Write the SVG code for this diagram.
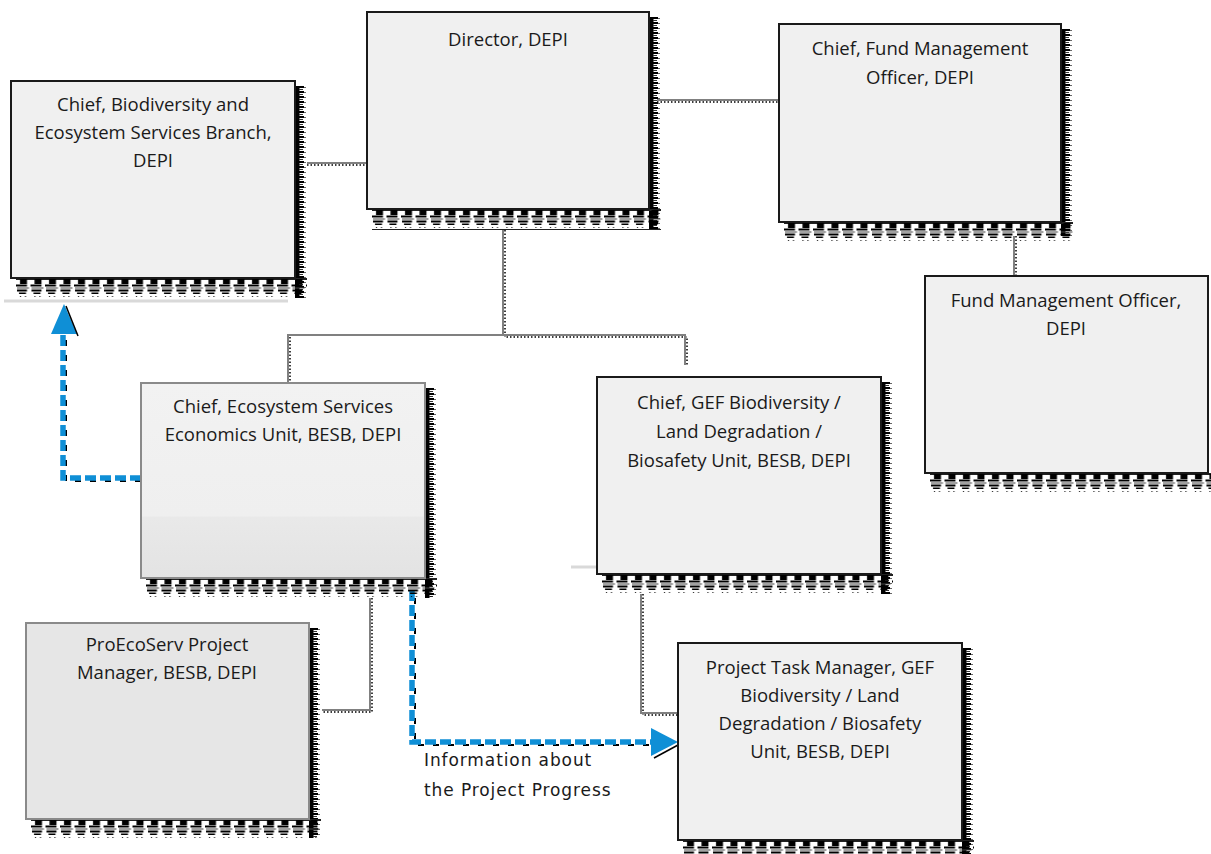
<svg xmlns="http://www.w3.org/2000/svg" width="1211" height="854" viewBox="0 0 1211 854">
<defs>
  <pattern id="hb" width="14.5" height="20" patternUnits="userSpaceOnUse">
    <rect x="0" y="0" width="14.5" height="2" fill="#222"/>
    <rect x="4" y="1" width="7" height="5" fill="#000"/>
    <rect x="0" y="6.5" width="11" height="2" fill="#000"/>
    <rect x="1" y="9.5" width="12" height="1" fill="#444"/>
    <rect x="1" y="11.5" width="10" height="2" fill="#000"/>
    <rect x="3" y="14.5" width="7" height="1.5" fill="#000"/>
    <rect x="4" y="18" width="1" height="1" fill="#000"/>
    <rect x="9" y="18" width="1" height="1" fill="#000"/>
  </pattern>
  <pattern id="hr" width="13" height="5" patternUnits="userSpaceOnUse">
    <rect x="0" y="0" width="4.5" height="5" fill="#000"/>
    <rect x="4" y="0" width="5" height="2" fill="#000"/>
    <rect x="4" y="3" width="4" height="1" fill="#333"/>
    <rect x="9" y="1" width="2" height="1" fill="#666"/>
  </pattern>
  <linearGradient id="g5" x1="0" y1="0" x2="0" y2="1">
    <stop offset="0" stop-color="#f2f2f2"/>
    <stop offset="0.68" stop-color="#efefef"/>
    <stop offset="0.69" stop-color="#e9e9e9"/>
    <stop offset="1" stop-color="#e3e3e3"/>
  </linearGradient>
</defs>
<style>
  .box { fill: #f0f0f0; stroke: #1a1a1a; stroke-width: 2; }
  .boxg { stroke: #8a8a8a; stroke-width: 2; }
  .sb { fill: url(#hb); }
  .sr { fill: url(#hr); }
  .t { font-family: "Open Sans", "Liberation Sans", sans-serif; font-size: 18.5px; fill: #1a1a1a; text-anchor: middle; }
  .lbl { font-family: "DejaVu Sans", sans-serif; font-size: 17px; letter-spacing: 0.9px; fill: #1a1a1a; }
  .c { fill: none; stroke: #808080; stroke-width: 2; }
  .cs { fill: none; stroke: #000; stroke-width: 1.5; stroke-dasharray: 1.5 2; }
  .b { fill: none; stroke: #0f8fd6; stroke-width: 5.5; stroke-dasharray: 11 4; }
  .bs { fill: none; stroke: #000; stroke-width: 2; stroke-dasharray: 6 9; }
  .faint { stroke: #d9d9d9; stroke-width: 3; }
</style>

<!-- faint lines -->
<line class="faint" x1="4" y1="301" x2="288" y2="301"/>
<line class="faint" x1="571" y1="567" x2="597" y2="567"/>

<!-- connectors -->
<g id="connectors">
  <path class="cs" d="M307,165 H367"/>
  <path class="c" d="M307,163 H367"/>
  <path class="cs" d="M657,102 H779"/>
  <path class="c" d="M657,100 H779"/>
  <path class="cs" d="M1016,236 V276"/>
  <path class="c" d="M1014,236 V276"/>
  <path class="cs" d="M505,230 V337 H687 V365 M290,337 V383"/>
  <path class="c" d="M503,230 V335 H685 V365 M503,335 H288 V383"/>
  <path class="cs" d="M372,598 V712 H322"/>
  <path class="c" d="M370,598 V710 H322"/>
  <path class="cs" d="M643,594 V715 H678"/>
  <path class="c" d="M641,594 V713 H678"/>

  <!-- blue dashed arrows -->
  <path class="bs" d="M141,481 H66 V335"/>
  <path class="b" d="M141,478 H63 V330"/>
  <path d="M51,334 L64,304 L77,334 Z" fill="#0f8fd6"/>
  <path d="M66,306 L78,336" stroke="#000" stroke-width="1.5"/>

  <path class="bs" d="M415,598 V745 H652"/>
  <path class="b" d="M412,590 V742 H652"/>
  <path d="M651,728 L678,742 L651,756 Z" fill="#0f8fd6"/>
  <path d="M654,758 L678,745" stroke="#000" stroke-width="1.5"/>
</g>

<!-- nodes -->
<g id="n-biodiversity">
  <g transform="translate(295,86)"><rect class="sr" width="12" height="212"/></g>
  <g transform="translate(16,278)"><rect class="sb" width="291" height="20"/></g>
  <rect class="box" x="11" y="81" width="284" height="197"/>
  <text class="t" x="153" y="111">Chief, Biodiversity and</text>
  <text class="t" x="153" y="139">Ecosystem Services Branch,</text>
  <text class="t" x="153" y="167">DEPI</text>
</g>

<g id="n-director">
  <g transform="translate(649,17)"><rect class="sr" width="12" height="213"/></g>
  <g transform="translate(372,209)"><rect class="sb" width="289" height="21"/></g>
  <rect class="box" x="367" y="12" width="282" height="197"/>
  <text class="t" x="508" y="46">Director, DEPI</text>
</g>

<g id="n-chief-fund">
  <g transform="translate(1061,29)"><rect class="sr" width="12" height="207"/></g>
  <g transform="translate(784,222)"><rect class="sb" width="289" height="20"/></g>
  <rect class="box" x="779" y="24" width="282" height="198"/>
  <text class="t" x="920" y="55">Chief, Fund Management</text>
  <text class="t" x="920" y="84">Officer, DEPI</text>
</g>

<g id="n-fund-officer">
  <g transform="translate(930,473)"><rect class="sb" width="281" height="20"/></g>
  <rect class="box" x="925" y="276" width="283" height="197"/>
  <text class="t" x="1066" y="307">Fund Management Officer,</text>
  <text class="t" x="1066" y="335">DEPI</text>
</g>

<g id="n-es-econ">
  <g transform="translate(425,388)"><rect class="sr" width="12" height="210"/></g>
  <g transform="translate(146,578)"><rect class="sb" width="291" height="20"/></g>
  <rect class="boxg" x="141" y="383" width="284" height="195" fill="url(#g5)"/>
  <text class="t" x="283" y="413">Chief, Ecosystem Services</text>
  <text class="t" x="283" y="441">Economics Unit, BESB, DEPI</text>
</g>

<g id="n-gef-chief">
  <g transform="translate(881,382)"><rect class="sr" width="12" height="212"/></g>
  <g transform="translate(602,574)"><rect class="sb" width="291" height="20"/></g>
  <rect class="box" x="597" y="377" width="284" height="197"/>
  <text class="t" x="739" y="409">Chief, GEF Biodiversity /</text>
  <text class="t" x="739" y="438">Land Degradation /</text>
  <text class="t" x="739" y="467">Biosafety Unit, BESB, DEPI</text>
</g>

<g id="n-proecoserv">
  <g transform="translate(309,628)"><rect class="sr" width="12" height="210"/></g>
  <g transform="translate(31,819)"><rect class="sb" width="290" height="19"/></g>
  <rect class="boxg" x="26" y="623" width="283" height="196" fill="#e6e6e6"/>
  <text class="t" x="167" y="651">ProEcoServ Project</text>
  <text class="t" x="167" y="679">Manager, BESB, DEPI</text>
</g>

<g id="n-task-manager">
  <g transform="translate(962,648)"><rect class="sr" width="12" height="206"/></g>
  <g transform="translate(683,840)"><rect class="sb" width="291" height="14"/></g>
  <rect class="box" x="678" y="643" width="284" height="197"/>
  <text class="t" x="820" y="674">Project Task Manager, GEF</text>
  <text class="t" x="820" y="702">Biodiversity / Land</text>
  <text class="t" x="820" y="730">Degradation / Biosafety</text>
  <text class="t" x="820" y="758">Unit, BESB, DEPI</text>
</g>

<g id="label-info">
  <text class="lbl" x="424" y="766">Information about</text>
  <text class="lbl" x="424" y="796">the Project Progress</text>
</g>
</svg>
